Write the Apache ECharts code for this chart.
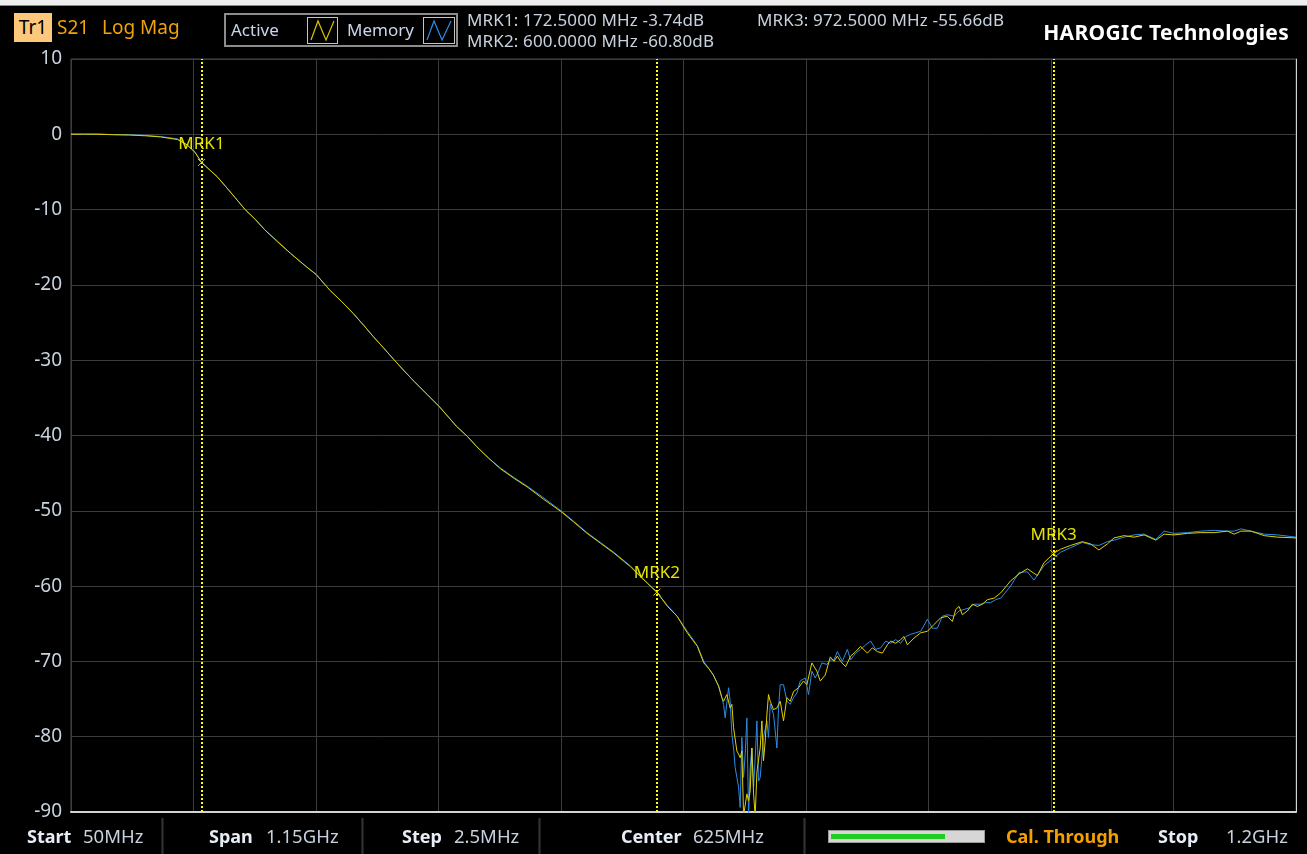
<!DOCTYPE html>
<html>
<head>
<meta charset="utf-8">
<title>S21 Log Mag</title>
<script src="https://cdn.jsdelivr.net/npm/echarts@6/dist/echarts.min.js"></script>
<style>
  html, body { margin: 0; padding: 0; background: #000; }
  body { width: 1307px; height: 854px; overflow: hidden; position: relative; font-family: "Noto Sans", "Liberation Sans", sans-serif; }
  #chart { position: absolute; left: 0; top: 0; width: 1307px; height: 854px; }
  .strip { position: absolute; left: 0; top: 0; width: 1307px; height: 5px; background: #eeeeee; border-bottom: 1px solid #8a8a8a; }
  .t { position: absolute; white-space: nowrap; line-height: 1; }
  .tr1 { left: 14px; top: 13px; width: 38px; height: 29px; background: #fdc77c; color: #000; font-size: 19px; line-height: 29px; text-align: center; }
  .orange { color: #f0a30a; font-size: 19px; }
  .legend { position: absolute; left: 224px; top: 13px; width: 234px; height: 34px; box-sizing: border-box; border: 2px solid #8c8c8c; }
  .icon { position: absolute; top: 17px; width: 31px; height: 27px; box-sizing: border-box; border: 1px solid #c4c4c4; }
  .lt { color: #c8d6ea; font-size: 17px; }
  .mrk { color: #c8d2de; font-size: 17px; letter-spacing: 0.15px; }
  .brand { color: #fff; font-weight: bold; font-size: 21px; letter-spacing: 0.3px; }
  .fl { color: #e6edf5; font-weight: bold; font-size: 18px; }
  .fv { color: #c8d2de; font-size: 18.5px; }
  .sep { position: absolute; top: 818px; width: 3px; height: 36px; background: linear-gradient(90deg, #111, #333, #111); }
  .bar { position: absolute; left: 828px; top: 830px; width: 157px; height: 13px; box-sizing: border-box; border: 1px solid #9a9a9a; background: #d6d6d6; }
  .bar div { position: absolute; left: 2px; top: 3px; width: 114px; height: 5px; background: #22cc22; }
</style>
</head>
<body>
<div id="chart"></div>
<div class="strip"></div>

<!-- header -->
<div class="t tr1">Tr1</div>
<div class="t orange" style="left:57px;top:18px;">S21</div>
<div class="t orange" style="left:102px;top:18px;">Log Mag</div>
<div class="legend"></div>
<div class="t lt" style="left:231px;top:21px;">Active</div>
<div class="icon" style="left:307px;">
  <svg width="29" height="25"><polyline points="3,22 10,3 18,22 26,3" fill="none" stroke="#d8c400" stroke-width="1.2"/></svg>
</div>
<div class="t lt" style="left:347px;top:21px;">Memory</div>
<div class="icon" style="left:423px;width:32px;">
  <svg width="30" height="25"><polyline points="3,22 10,3 18,22 27,3" fill="none" stroke="#2a8ce6" stroke-width="1.2"/></svg>
</div>
<div class="t mrk" style="left:467px;top:11px;">MRK1: 172.5000 MHz -3.74dB</div>
<div class="t mrk" style="left:467px;top:32px;">MRK2: 600.0000 MHz -60.80dB</div>
<div class="t mrk" style="left:757px;top:11px;">MRK3: 972.5000 MHz -55.66dB</div>
<div class="t brand" style="right:18px;top:22px;">HAROGIC Technologies</div>

<!-- footer -->
<div class="t fl" style="left:27px;top:827px;">Start</div>
<div class="t fv" style="left:83px;top:827px;">50MHz</div>
<div class="sep" style="left:161px;"></div>
<div class="t fl" style="left:209px;top:827px;">Span</div>
<div class="t fv" style="left:266px;top:827px;">1.15GHz</div>
<div class="sep" style="left:361px;"></div>
<div class="t fl" style="left:402px;top:827px;">Step</div>
<div class="t fv" style="left:454px;top:827px;">2.5MHz</div>
<div class="sep" style="left:538px;"></div>
<div class="t fl" style="left:621px;top:827px;">Center</div>
<div class="t fv" style="left:693px;top:827px;">625MHz</div>
<div class="sep" style="left:803px;"></div>
<div class="bar"><div></div></div>
<div class="t fl" style="left:1006px;top:827px;color:#f5a000;">Cal. Through</div>
<div class="t fl" style="left:1158px;top:827px;">Stop</div>
<div class="t fv" style="left:1226px;top:827px;">1.2GHz</div>

<script>
// sweep: 50 MHz .. 1.2 GHz, 10 divisions
const startFreq = 50
const stopFreq = 1200
const divFreq = 115

// Active trace (yellow)
const activeFreq = [
  50, 62, 75, 90, 105, 120, 134, 150, 159, 166.5,
  172.5, 187, 195, 204, 213.5, 223, 232, 244, 256, 271,
  280, 293, 304, 315, 325, 334, 343, 353, 362, 372,
  384, 396, 412, 422, 431, 442, 453, 466, 478, 494,
  510, 522, 534.5, 547, 559.5, 575, 585, 591, 600, 610,
  619, 628.5, 638, 644, 648.5, 653, 658, 661,
  662.6, 665.7, 668.8, 670.4, 672.0, 675.1, 676.7, 678.2, 679.8, 681.4,
  684.5, 686.1, 687.6, 689.2, 690.8, 692.3, 693.9, 697.0, 698.6, 700.1,
  701.7, 703.3, 704.8, 706.4, 709.5, 712.7, 715.8, 718.9, 722.1, 725.2,
  728.3, 733.0, 737.7, 740.8, 745.5, 750.2, 753.4, 758.1, 762.8,
  766.3, 769.4, 772.5, 777.2, 781.9, 786.6, 791.3, 792.9, 797.6, 802.3,
  807.0, 811.7, 816.4, 819.5, 824.2, 828.9, 832.0, 835.2, 841.4, 847.7,
  854.0, 860.2, 866.5, 872.7, 877.4, 880.6, 883.7, 886.8, 891.5, 896.2,
  900.9, 905.6, 910.3, 916.6, 922.8,
  932.1, 939.9, 947.8, 957.2, 963.4, 972.5, 979, 988.4, 999.4, 1007.2,
  1015, 1022.9, 1029.2, 1038.6, 1048, 1057.4, 1068.4, 1076.2, 1085.6, 1098.1,
  1110.7, 1123.2, 1135.7, 1142, 1148.3, 1157.7, 1170.2, 1182.7, 1200
]
const activeDb = [
  0, 0.02, 0, -0.05, -0.1, -0.2, -0.35, -0.7, -1.4, -2.4,
  -3.74, -5.6, -6.9, -8.4, -10, -11.3, -12.7, -14.3, -15.8, -17.6,
  -18.6, -20.7, -22.2, -23.8, -25.4, -26.9, -28.3, -29.9, -31.3, -32.8,
  -34.5, -36.2, -38.8, -40.1, -41.5, -43, -44.4, -45.7, -46.8, -48.5,
  -50.1, -51.5, -53, -54.3, -55.6, -57.4, -58.8, -59.6, -60.8, -62.7,
  -64, -66.2, -68, -70.2, -70.9, -71.8, -73.3, -74.8,
  -75.3, -74.4, -76.2, -75.7, -78.8, -81.9, -82.3, -82.8, -81.9, -90.5,
  -87.6, -88.5, -87.2, -81.5, -87.6, -90.5, -84.7, -81.5, -77.9, -83.2,
  -80.6, -77.0, -74.4, -75.3, -76.4, -76.2, -75.3, -77.9, -74.8, -75.3,
  -74.0, -73.5, -72.6, -73.1, -70.2, -71.3, -72.6, -71.8, -69.4,
  -70.0, -69.3, -70.0, -70.7, -69.3, -68.7, -68.0, -67.8, -68.9, -68.2,
  -68.7, -68.9, -67.8, -67.3, -67.6, -67.1, -66.7, -67.8, -66.9, -66.2,
  -66.0, -65.1, -64.2, -64.0, -64.7, -63.1, -62.7, -63.8, -63.3, -62.4,
  -62.7, -62.4, -61.8, -61.6, -60.9,
  -59.3, -58.4, -57.7, -58.6, -56.9, -55.66, -55.1, -54.6, -54.1, -54.4,
  -55.2, -54.4, -53.6, -53.3, -53.5, -53.2, -53.9, -53.1, -53.2, -53.0,
  -52.9, -52.9, -52.7, -53.1, -52.7, -52.7, -53.3, -53.5, -53.6
]

// Memory trace (blue)
const memoryFreq = [
  50, 62, 75, 90, 105, 120, 134, 150, 159, 166.5,
  172.5, 187, 195, 204, 213.5, 223, 232, 244, 256, 271,
  280, 293, 304, 315, 325, 334, 343, 353, 362, 372,
  384, 396, 412, 422, 431, 442, 453, 466, 478, 494,
  510, 522, 534.5, 547, 559.5, 575, 585, 591, 600, 610,
  619, 628.5, 638, 644, 648.5, 653, 658, 661,
  662.6, 664.1, 667.3, 668.8, 670.4, 672.0, 673.5, 675.1, 676.7, 678.2,
  679.8, 681.4, 682.9, 684.5, 686.1, 687.6, 689.2, 690.8, 692.3, 693.9,
  695.4, 697.0, 700.1, 703.3, 704.8, 706.4, 709.5, 712.7, 714.2, 715.8,
  718.9, 722.1, 725.2, 728.3, 731.5, 734.6, 739.3, 742.4, 745.5, 748.7,
  751.8, 754.9, 759.6, 762.8,
  766.3, 769.4, 774.1, 778.8, 781.9, 786.6, 791.3, 796.0, 800.7, 805.4,
  810.1, 814.8, 819.5, 824.2, 828.9, 833.6, 838.3, 843.0, 847.7, 854.0,
  858.6, 863.3, 868.0, 872.7, 879.0, 883.7, 888.4, 893.1, 897.8, 904.0,
  908.7, 913.4, 918.1, 922.8,
  932.1, 939.9, 947.8, 954, 963.4, 971.2, 979, 988.4, 999.4, 1007.2,
  1015, 1022.9, 1029.2, 1038.6, 1048, 1057.4, 1068.4, 1076.2, 1085.6, 1098.1,
  1110.7, 1123.2, 1135.7, 1142, 1148.3, 1157.7, 1170.2, 1182.7, 1200
]
const memoryDb = [
  0.05, 0.02, 0.05, -0.05, -0.05, -0.15, -0.3, -0.6, -1.4, -2.4,
  -3.7, -5.6, -6.9, -8.4, -10, -11.3, -12.7, -14.2, -15.8, -17.6,
  -18.6, -20.7, -22.2, -23.8, -25.4, -26.9, -28.3, -29.9, -31.3, -32.8,
  -34.5, -36.2, -38.8, -40.1, -41.5, -43, -44.3, -45.6, -46.7, -48.3,
  -50, -51.4, -52.9, -54.2, -55.5, -57.3, -58.7, -59.6, -60.8, -62.6,
  -64, -66, -67.9, -70, -70.9, -71.8, -73.3, -74.8,
  -75.7, -77.5, -73.5, -75.3, -79.7, -81.5, -84.1, -85.4, -86.7, -89.4,
  -80.1, -85.4, -82.3, -77.5, -90.5, -84.1, -81.5, -86.7, -82.8, -77.9,
  -85.9, -85.4, -80.1, -77.9, -80.1, -75.7, -77.0, -81.5, -76.2, -73.1,
  -73.1, -75.3, -75.7, -74.8, -74.2, -72.6, -72.2, -74.4, -71.3, -72.2,
  -71.3, -70.2, -70.4, -69.8,
  -69.8, -68.7, -70.0, -68.4, -69.8, -68.9, -68.4, -67.8, -67.3, -68.4,
  -68.2, -67.3, -67.6, -67.1, -67.6, -66.7, -66.4, -66.2, -66.0, -64.4,
  -65.6, -65.6, -64.0, -63.8, -64.0, -63.3, -63.1, -62.9, -62.4, -62.4,
  -62.2, -62.2, -61.8, -61.6,
  -60.0, -58.2, -58.1, -59.2, -57.3, -56.4, -55.5, -54.9, -54.2, -54.5,
  -54.6, -54.1, -53.9, -53.5, -53.2, -53.1, -53.8, -52.7, -53.0, -52.9,
  -52.7, -52.6, -52.7, -52.7, -52.4, -52.7, -53.1, -53.2, -53.5
]

// markers
const markerNames = ['MRK1', 'MRK2', 'MRK3']
const markerFreq = [172.5, 600, 972.5]
const markerDb = [-3.74, -60.8, -55.66]

const font = '"Noto Sans", "Liberation Sans", sans-serif'

function pairs (xs, ys) {
  if (xs.length !== ys.length) console.warn('length mismatch', xs.length, ys.length)
  return xs.map((x, i) => [x, ys[i]])
}

const chart = echarts.init(document.getElementById('chart'))
chart.setOption({
  backgroundColor: 'transparent',
  animation: false,
  grid: {
    left: 71, right: 11, top: 59, bottom: 42,
    show: true, borderColor: '#4a4a4a', borderWidth: 1, backgroundColor: '#000'
  },
  xAxis: {
    type: 'value', min: startFreq, max: stopFreq, interval: divFreq,
    axisLabel: { show: false },
    axisTick: { show: false },
    axisLine: { show: true, onZero: false, lineStyle: { color: '#d4d4d4', width: 2 } },
    splitLine: { show: true, lineStyle: { color: '#3c3c3c', width: 1 } }
  },
  yAxis: [
    {
      type: 'value', min: -90, max: 10, interval: 10,
      axisLabel: { color: '#c8d2de', fontSize: 19, margin: 9, fontFamily: font },
      axisLine: { show: false },
      axisTick: { show: false },
      splitLine: { lineStyle: { color: '#3c3c3c', width: 1 } }
    },
    {
      type: 'value', position: 'right', min: -90, max: 10, interval: 10,
      axisLabel: { show: false },
      axisTick: { show: false },
      splitLine: { show: false },
      axisLine: { show: true, lineStyle: { color: '#d4d4d4', width: 1 } }
    }
  ],
  series: [
    {
      name: 'Memory',
      type: 'line',
      data: pairs(memoryFreq, memoryDb),
      showSymbol: false,
      lineStyle: { color: '#2a8ce6', width: 1 }
    },
    {
      name: 'Active',
      type: 'line',
      data: pairs(activeFreq, activeDb),
      showSymbol: false,
      lineStyle: { color: '#e2cf00', width: 1 },
      markLine: {
        silent: true,
        symbol: 'none',
        label: { show: false },
        lineStyle: { color: '#ffff00', width: 2, type: [2, 2] },
        data: markerFreq.map(f => ({ xAxis: f }))
      },
      markPoint: {
        silent: true,
        symbol: 'path://M0 0L10 10M10 0L0 10',
        symbolSize: 7,
        itemStyle: { color: 'transparent', borderColor: '#e2cf00', borderWidth: 1 },
        label: {
          show: true, position: 'top', distance: 6,
          formatter: '{b}', color: '#e4e400', fontSize: 17, fontFamily: font
        },
        data: markerNames.map((n, i) => ({ name: n, coord: [markerFreq[i], markerDb[i]] }))
      }
    }
  ]
})
</script>
</body>
</html>
